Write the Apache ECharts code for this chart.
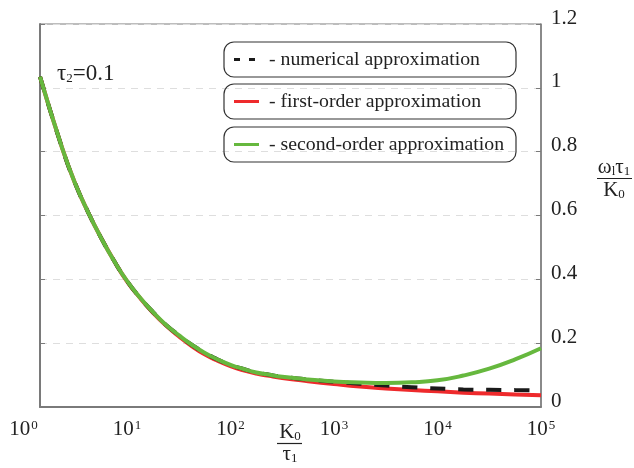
<!DOCTYPE html>
<html>
<head>
<meta charset="utf-8">
<script src="https://cdn.jsdelivr.net/npm/echarts@6/dist/echarts.min.js"></script>
<style>
  html, body { margin: 0; padding: 0; background: #fff; }
  #chart { width: 634px; height: 468px; }
</style>
</head>
<body>
<div id="chart"></div>
<script>
// K0/tau1 sample points (log-spaced)
const kRatio = [1.445, 2.371, 3.162, 4.217, 5.623, 7.499, 10, 13.34, 17.78, 23.71, 31.62, 42.17,
                56.23, 74.99, 100, 133.4, 177.8, 237.1, 316.2, 562.3,
                1000, 1778, 3162, 5623, 10000, 17783, 31623, 56234, 100000];
// omega_l * tau1 / K0
const numerical   = [1.035, 0.81, 0.70, 0.61, 0.53, 0.458, 0.395, 0.343, 0.298, 0.258, 0.225, 0.195,
                     0.170, 0.149, 0.132, 0.119, 0.108, 0.101, 0.095, 0.086,
                     0.079, 0.073, 0.067, 0.062, 0.058, 0.055, 0.054, 0.053, 0.052];
const firstOrder  = [1.035, 0.81, 0.70, 0.61, 0.53, 0.458, 0.394, 0.342, 0.296, 0.256, 0.222, 0.191,
                     0.165, 0.145, 0.128, 0.115, 0.105, 0.0975, 0.091, 0.081,
                     0.072, 0.064, 0.058, 0.053, 0.049, 0.045, 0.042, 0.039, 0.037];
const secondOrder = [1.035, 0.81, 0.70, 0.61, 0.53, 0.458, 0.395, 0.343, 0.298, 0.258, 0.225, 0.195,
                     0.170, 0.149, 0.132, 0.119, 0.108, 0.101, 0.095, 0.0865,
                     0.080, 0.077, 0.0755, 0.0775, 0.0835, 0.0985, 0.120, 0.149, 0.184];
const decadeExps = [0, 1, 2, 3, 4, 5];

const SERIF = "'Liberation Serif', 'Times New Roman', serif";
const AXIS_GREY = '#7a7a7a';
const TEXT = '#222';
const C_NUM = '#1a1a1a', C_FIRST = '#ee2a2c', C_SECOND = '#66b83e';

const pairs = ys => kRatio.map((k, i) => [k, ys[i]]);

// subscript style for rich text
const sub = { fontSize: 13, fontFamily: SERIF, fill: TEXT, color: TEXT, verticalAlign: 'bottom', lineHeight: 12, padding: [18, 0, 0, 0] };

function legendBox(name, top, icon, iconWidth) {
  return {
    data: [name],
    left: 224, top: top,
    orient: 'horizontal',
    selectedMode: false,
    borderColor: '#333', borderWidth: 1.2, borderRadius: 10,
    padding: [7, 0, 7, 10],
    icon: icon,
    itemWidth: iconWidth, itemHeight: 3,
    formatter: '- {name}',
    textStyle: { fontFamily: SERIF, fontSize: 19.8, color: TEXT, width: 247, lineHeight: 21,
                 padding: [0, 0, 0, 30 - iconWidth] }
  };
}

const chart = echarts.init(document.getElementById('chart'), null, { renderer: 'canvas' });
chart.setOption({
  animation: false,
  backgroundColor: '#fff',
  grid: [
    { left: 40, right: 93, top: 24, bottom: 61, show: true, borderColor: AXIS_GREY, borderWidth: 1 },
    { left: 23.4, right: 93, top: 24, bottom: 61 }
  ],
  xAxis: [
    { type: 'log', gridIndex: 0, logBase: 10, min: 1.445, max: 100000,
      axisLine: { show: true, onZero: false, lineStyle: { color: AXIS_GREY, width: 2 } },
      axisTick: { show: false }, axisLabel: { show: false }, splitLine: { show: false } },
    { type: 'value', gridIndex: 1, min: 0, max: 5, interval: 1,
      axisLine: { show: false }, axisTick: { show: false }, splitLine: { show: false },
      axisLabel: {
        margin: 12, fontFamily: SERIF, fontSize: 21, color: TEXT,
        customValues: decadeExps,
        formatter: v => '10{s|' + v + '}',
        rich: { s: { fontSize: 13, fontFamily: SERIF, color: TEXT, verticalAlign: 'top', padding: [0, 0, 8, 1] } }
      } }
  ],
  yAxis: [
    { type: 'value', gridIndex: 0, position: 'right', min: 0, max: 1.2, interval: 0.2,
      axisLine: { show: true, lineStyle: { color: AXIS_GREY, width: 1.5 } },
      axisTick: { show: true, inside: true, length: 5, lineStyle: { color: AXIS_GREY, width: 1 } },
      axisLabel: { margin: 10, fontFamily: SERIF, fontSize: 21, color: TEXT,
                   verticalAlign: 'bottom', lineHeight: 12 },
      splitLine: { show: true, lineStyle: { color: '#dedede', type: [7, 6], width: 1 } } },
    { type: 'value', gridIndex: 0, position: 'left', min: 0, max: 1.2, interval: 0.2,
      axisLine: { show: true, lineStyle: { color: AXIS_GREY, width: 2 } },
      axisTick: { show: true, inside: true, length: 5, lineStyle: { color: AXIS_GREY, width: 1 } },
      axisLabel: { show: false }, splitLine: { show: false } },
    { type: 'value', gridIndex: 1, min: 0, max: 1.2, show: false }
  ],
  legend: [
    legendBox('numerical approximation', 42, 'path://M0,0H6V3H0Z M15,0H21V3H15Z', 21),
    legendBox('first-order approximation', 84, 'rect', 25),
    legendBox('second-order approximation', 127, 'rect', 25)
  ],
  series: [
    { name: 'first-order approximation', type: 'line', xAxisIndex: 0, yAxisIndex: 0,
      data: pairs(firstOrder), symbol: 'none', smooth: 0.5, z: 2,
      lineStyle: { color: C_FIRST, width: 4 }, itemStyle: { color: C_FIRST } },
    { name: 'numerical approximation', type: 'line', xAxisIndex: 0, yAxisIndex: 0,
      data: pairs(numerical), symbol: 'none', smooth: 0.5, z: 3,
      lineStyle: { color: C_NUM, width: 4, type: [15, 13] }, itemStyle: { color: C_NUM } },
    { name: 'second-order approximation', type: 'line', xAxisIndex: 0, yAxisIndex: 0,
      data: pairs(secondOrder), symbol: 'none', smooth: 0.5, z: 4,
      lineStyle: { color: C_SECOND, width: 4 }, itemStyle: { color: C_SECOND } }
  ],
  graphic: [
    { type: 'text', left: 57, top: 54, z: 10,
      style: { text: 'τ{s|2}=0.1', fontFamily: SERIF, fontSize: 23, fill: TEXT,
               rich: { s: sub } } },
    // y-axis quantity: omega_l tau_1 / K_0
    { type: 'text', x: 614, y: 178, z: 10,
      style: { text: 'ω{s|l}τ{s|1}', fontFamily: SERIF, fontSize: 21, fill: TEXT, align: 'center', verticalAlign: 'bottom',
               rich: { s: sub } } },
    { type: 'line', z: 10, shape: { x1: 597, y1: 178.5, x2: 632, y2: 178.5 }, style: { stroke: TEXT, lineWidth: 1.2 } },
    { type: 'text', x: 614, y: 180, z: 10,
      style: { text: 'K{s|0}', fontFamily: SERIF, fontSize: 21, fill: TEXT, align: 'center', verticalAlign: 'top',
               rich: { s: sub } } },
    // x-axis quantity: K_0 / tau_1
    { type: 'text', x: 290, y: 443, z: 10,
      style: { text: 'K{s|0}', fontFamily: SERIF, fontSize: 21, fill: TEXT, align: 'center', verticalAlign: 'bottom',
               rich: { s: sub } } },
    { type: 'line', z: 10, shape: { x1: 277, y1: 443.5, x2: 302, y2: 443.5 }, style: { stroke: TEXT, lineWidth: 1.2 } },
    { type: 'text', x: 290, y: 444, z: 10,
      style: { text: 'τ{s|1}', fontFamily: SERIF, fontSize: 21, fill: TEXT, align: 'center', verticalAlign: 'top',
               rich: { s: sub } } }
  ]
});
</script>
</body>
</html>
